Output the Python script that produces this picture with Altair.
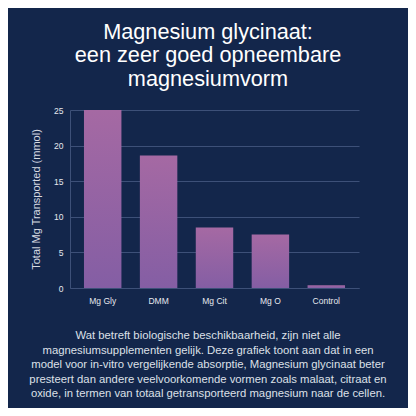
import altair as alt
import pandas as pd

categories = ["Mg Gly", "DMM", "Mg Cit", "Mg O", "Control"]
values = [25.0, 18.6, 8.5, 7.5, 0.4]
y_ticks = [0, 5, 10, 15, 20, 25]
title_lines = ["Magnesium glycinaat:", "een zeer goed opneembare", "magnesiumvorm"]
caption_lines = [
    "Wat betreft biologische beschikbaarheid, zijn niet alle",
    "magnesiumsupplementen gelijk. Deze grafiek toont aan dat in een",
    "model voor in-vitro vergelijkende absorptie, Magnesium glycinaat beter",
    "presteert dan andere veelvoorkomende vormen zoals malaat, citraat en",
    "oxide, in termen van totaal getransporteerd magnesium naar de cellen.",
]

df = pd.DataFrame({"cat": categories, "val": values})
FONT = "Liberation Sans"
BG = "#13264b"
GRID = "#3d5078"

bars = alt.Chart(df).mark_bar(
    color=alt.Gradient(
        gradient="linear",
        stops=[alt.GradientStop(color="#a569a3", offset=0),
               alt.GradientStop(color="#845ea4", offset=1)],
        x1=0, x2=0, y1=0, y2=1,
    )
).encode(
    x=alt.X("cat:N", sort=categories, title=None,
            scale=alt.Scale(paddingInner=0.33, paddingOuter=0.25),
            axis=alt.Axis(labelAngle=0, labelFont=FONT, labelFontSize=8.5,
                          labelColor="#e6e8ee", labelPadding=8, ticks=False,
                          domainColor=GRID, grid=False)),
    y=alt.Y("val:Q", title="Total Mg Transported (mmol)",
            scale=alt.Scale(domain=[0, 25], nice=False),
            axis=alt.Axis(values=y_ticks, labelFont=FONT, labelFontSize=8.5,
                          labelColor="#e6e8ee", labelPadding=7, ticks=False,
                          domainColor=GRID, gridColor=GRID, titleFont=FONT,
                          titleFontSize=11, titleFontWeight="normal",
                          titleColor="#d8dbe3", titlePadding=12)),
)

title_df = pd.DataFrame({"t": ["\n".join(title_lines)]})
title = alt.Chart(title_df).mark_text(
    font=FONT, fontSize=21.7, color="white", align="center", baseline="middle",
    lineBreak="\n", lineHeight=23.3,
).encode(text="t:N", x=alt.value(138), y=alt.value(-78))

cap_df = pd.DataFrame({"t": ["\n".join(caption_lines)]})
caption = alt.Chart(cap_df).mark_text(
    font=FONT, fontSize=11.3, color="#dde0e8", align="center", baseline="middle",
    lineBreak="\n", lineHeight=14.5,
).encode(text="t:N", x=alt.value(138), y=alt.value(226))

chart = alt.layer(bars, title, caption).properties(
    width=289, height=178,
    autosize=alt.AutoSizeParams(type="none"),
    padding={"left": 62, "top": 102, "right": 49, "bottom": 120},
    background=BG,
).configure_view(stroke=None)

chart.save("out.html", embed_options={"renderer": "svg", "actions": False})
